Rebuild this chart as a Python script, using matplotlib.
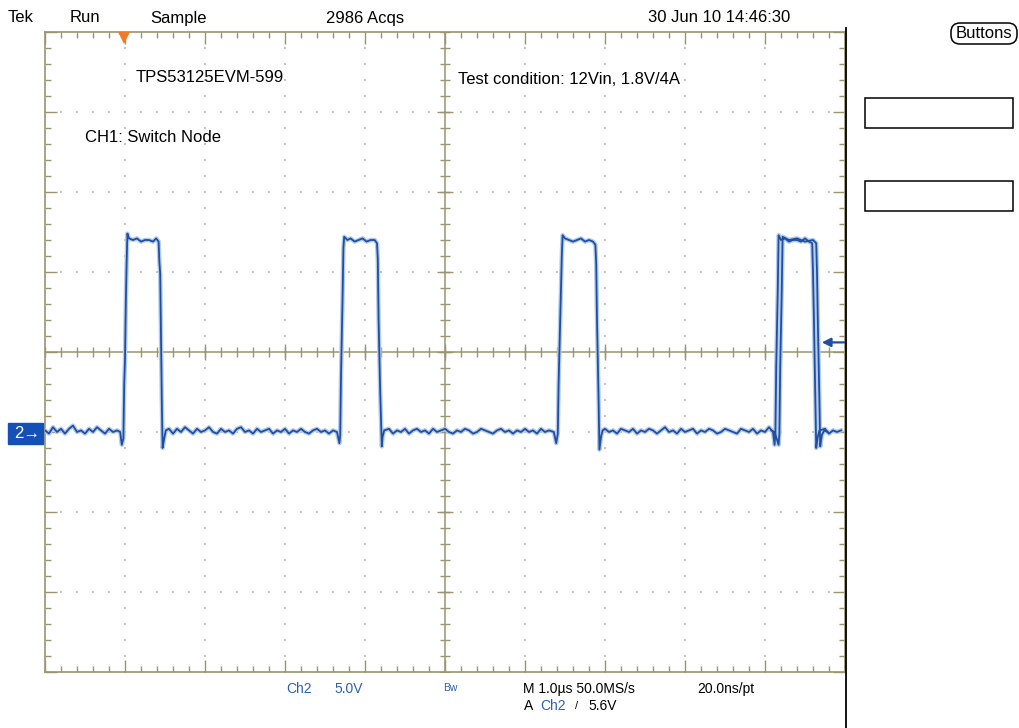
import numpy as np
import matplotlib
matplotlib.use('Agg')
import matplotlib.pyplot as plt
from matplotlib.patches import Rectangle, FancyBboxPatch
from matplotlib.lines import Line2D
from matplotlib.transforms import Affine2D

# --- scope settings ---
volts_per_div = 5.0      # Ch2 5.0V
us_per_div = 1.0         # M 1.0us
ch2_ground_div = -1.0    # "2->" marker one division below centre
trig_level_v = 5.6       # A Ch2 5.6V
trig_time_us = -4.01     # orange marker at the top

# --- Ch2 switch node trace, (time us from centre, volts) ---
low_a = [(-5.00, 0.1), (-4.95, -0.1), (-4.90, 0.3), (-4.85, 0.0), (-4.80, 0.2),
         (-4.75, -0.1), (-4.70, 0.2), (-4.65, 0.4), (-4.60, 0.0), (-4.55, 0.1),
         (-4.50, -0.1), (-4.45, 0.2), (-4.40, 0.0), (-4.35, 0.3), (-4.30, 0.1),
         (-4.25, -0.1), (-4.20, 0.2), (-4.15, 0.0), (-4.10, 0.1), (-4.06, 0.0)]
pulse_1 = [(-4.04, -0.8), (-4.02, -0.4), (-4.01, 3.0), (-4.00, 4.5), (-3.99, 8.0),
           (-3.98, 10.5), (-3.97, 12.4), (-3.95, 12.1), (-3.90, 12.0), (-3.85, 12.1),
           (-3.80, 11.9), (-3.75, 12.0), (-3.70, 12.0), (-3.65, 11.9), (-3.61, 12.1),
           (-3.58, 11.9), (-3.57, 10.6), (-3.56, 9.9), (-3.55, 6.0), (-3.54, 2.0),
           (-3.53, -1.0), (-3.51, -0.4), (-3.49, 0.1)]
low_b = [(-3.45, 0.2), (-3.40, -0.1), (-3.35, 0.2), (-3.30, 0.0), (-3.25, 0.3),
         (-3.20, 0.1), (-3.15, -0.1), (-3.10, 0.2), (-3.05, 0.0), (-3.00, 0.1),
         (-2.95, 0.3), (-2.90, 0.0), (-2.85, -0.1), (-2.80, 0.2), (-2.75, 0.0),
         (-2.70, 0.1), (-2.65, -0.1), (-2.60, 0.2), (-2.55, 0.3), (-2.50, 0.0),
         (-2.45, 0.1), (-2.40, -0.1), (-2.35, 0.2), (-2.30, 0.0), (-2.25, 0.1),
         (-2.20, 0.2), (-2.15, -0.1), (-2.10, 0.1), (-2.05, 0.0), (-2.00, 0.2),
         (-1.95, -0.1), (-1.90, 0.1), (-1.85, 0.0), (-1.80, 0.2), (-1.75, 0.0),
         (-1.70, -0.1), (-1.65, 0.1), (-1.60, 0.2), (-1.55, 0.0), (-1.50, 0.1),
         (-1.45, -0.1), (-1.40, 0.1), (-1.35, 0.0)]
pulse_2 = [(-1.32, -0.7), (-1.31, -0.2), (-1.30, 3.5), (-1.28, 8.5), (-1.27, 11.5),
           (-1.26, 12.2), (-1.22, 12.0), (-1.18, 12.1), (-1.13, 11.9), (-1.08, 12.0),
           (-1.03, 12.1), (-0.98, 11.9), (-0.93, 12.0), (-0.88, 12.0), (-0.85, 11.8),
           (-0.84, 10.8), (-0.83, 7.0), (-0.81, 2.5), (-0.79, -0.9), (-0.78, -0.3),
           (-0.76, 0.1)]
low_c = [(-0.70, 0.2), (-0.65, -0.1), (-0.60, 0.1), (-0.55, 0.0), (-0.50, 0.2),
         (-0.45, -0.1), (-0.40, 0.1), (-0.35, 0.2), (-0.30, 0.0), (-0.25, 0.1),
         (-0.20, -0.1), (-0.15, 0.2), (-0.10, 0.0), (-0.05, 0.1), (0.00, 0.2),
         (0.05, 0.0), (0.10, -0.1), (0.15, 0.1), (0.20, 0.0), (0.25, 0.2),
         (0.30, 0.1), (0.35, -0.1), (0.40, 0.0), (0.45, 0.2), (0.50, 0.1),
         (0.55, 0.0), (0.60, -0.1), (0.65, 0.1), (0.70, 0.2), (0.75, 0.0),
         (0.80, 0.1), (0.85, -0.1), (0.90, 0.1), (0.95, 0.0), (1.00, 0.2),
         (1.05, 0.0), (1.10, 0.1), (1.15, -0.1), (1.20, 0.2), (1.25, 0.0),
         (1.30, 0.1), (1.36, 0.0)]
pulse_3 = [(1.39, -0.7), (1.41, -0.1), (1.42, 3.0), (1.44, 7.0), (1.46, 11.0),
           (1.47, 12.3), (1.50, 12.1), (1.55, 12.0), (1.60, 11.9), (1.65, 12.0),
           (1.70, 12.1), (1.75, 11.9), (1.80, 12.0), (1.85, 11.9), (1.88, 11.7),
           (1.89, 10.5), (1.90, 7.0), (1.92, 2.0), (1.93, -1.1), (1.95, -0.3),
           (1.97, 0.1)]
low_d = [(2.00, 0.2), (2.05, 0.0), (2.10, 0.1), (2.15, -0.1), (2.20, 0.2),
         (2.25, 0.1), (2.30, 0.0), (2.35, 0.2), (2.40, -0.1), (2.45, 0.1),
         (2.50, 0.0), (2.55, 0.2), (2.60, 0.1), (2.65, -0.1), (2.70, 0.1),
         (2.75, 0.3), (2.80, 0.0), (2.85, 0.1), (2.90, -0.1), (2.95, 0.2),
         (3.00, 0.0), (3.05, 0.1), (3.10, 0.2), (3.15, -0.1), (3.20, 0.1),
         (3.25, 0.0), (3.30, 0.2), (3.35, 0.1), (3.40, -0.1), (3.45, 0.0),
         (3.50, 0.2), (3.55, 0.1), (3.60, 0.0), (3.65, -0.1), (3.70, 0.2),
         (3.75, 0.1), (3.80, 0.0), (3.85, 0.2), (3.90, -0.1), (3.95, 0.1),
         (4.00, 0.0), (4.05, 0.3), (4.10, 0.0)]
pulse_4 = [(4.12, -0.8), (4.13, -0.1), (4.14, 4.0), (4.16, 9.0), (4.17, 12.3),
           (4.20, 12.0), (4.25, 12.1), (4.30, 11.9), (4.35, 12.0), (4.40, 12.0),
           (4.45, 11.9), (4.50, 12.1), (4.55, 11.9), (4.59, 11.8), (4.60, 10.0),
           (4.61, 7.5), (4.63, 2.0), (4.64, -1.0), (4.66, -0.3), (4.68, 0.1),
           (4.75, 0.2), (4.80, -0.1), (4.85, 0.1), (4.90, 0.0), (4.95, 0.1)]
# jittered second sweep around the last pulse
ghost_4 = [(4.08, 0.1), (4.12, 0.0), (4.17, -0.8), (4.18, -0.1), (4.19, 4.0),
           (4.21, 9.0), (4.22, 12.2), (4.30, 12.0), (4.40, 12.1), (4.50, 11.9),
           (4.60, 12.0), (4.64, 11.8), (4.65, 10.0), (4.66, 7.0), (4.68, 2.0),
           (4.69, -0.9), (4.71, -0.2), (4.74, 0.1), (4.78, 0.0)]

header = ["Tek", "Run", "Sample", "2986 Acqs", "30 Jun 10 14:46:30"]
header_x = [8, 70, 150, 326, 648]

W, H = 1019, 728
blue = '#1f4f9e'
halo = '#b4cbec'
olive = '#9a9470'
dots = '#c4c4c4'
txtblue = '#2a60b0'

plt.rcParams['font.family'] = ['Liberation Sans', 'DejaVu Sans']

fig = plt.figure(figsize=(W / 100, H / 100), dpi=100)
fig.patch.set_facecolor('white')
# pixel coordinates with the origin at the top-left
pix = Affine2D().scale(1 / W, -1 / H).translate(0, 1) + fig.transFigure

ax = fig.add_axes([45 / W, (H - 672) / H, 800 / W, 640 / H])
ax.set_xlim(-5, 5)
ax.set_ylim(-4, 4)
ax.set_facecolor('white')

# graticule
for s in ax.spines.values():
    s.set_color(olive)
    s.set_linewidth(1.2)
ax.set_xticks(np.arange(-5, 6, 1))
ax.set_yticks(np.arange(-4, 5, 1))
ax.set_xticks(np.arange(-5, 5.01, 0.2), minor=True)
ax.set_yticks(np.arange(-4, 4.01, 0.2), minor=True)
ax.tick_params(which='both', direction='in', top=True, right=True,
               labelbottom=False, labelleft=False, color=olive, width=1)
ax.tick_params(which='major', length=8.5)
ax.tick_params(which='minor', length=4.3)

fine_x = np.arange(-5, 5.01, 0.2)
fine_y = np.arange(-4, 4.01, 0.2)
for gx in [-4, -3, -2, -1, 1, 2, 3, 4]:
    ax.plot(np.full_like(fine_y, gx), fine_y, 's', ms=1.6, color=dots, mew=0, zorder=1)
for gy in [-3, -2, -1, 1, 2, 3]:
    ax.plot(fine_x, np.full_like(fine_x, gy), 's', ms=1.6, color=dots, mew=0, zorder=1)

ax.axhline(0, color=olive, lw=1.1, zorder=1)
ax.axvline(0, color=olive, lw=1.1, zorder=1)
ax.plot(fine_x, np.zeros_like(fine_x), '|', ms=7, color=olive, mew=1, zorder=1)
ax.plot(fine_y * 0, fine_y, '_', ms=7, color=olive, mew=1, zorder=1)
ax.plot(np.arange(-4, 5), np.zeros(9), '|', ms=11, color=olive, mew=1, zorder=1)
ax.plot(np.zeros(7), np.arange(-3, 4), '_', ms=11, color=olive, mew=1, zorder=1)

# trace
sweep = low_a + pulse_1 + low_b + pulse_2 + low_c + pulse_3 + low_d + pulse_4
for seg in (sweep, ghost_4):
    t = np.array([p[0] for p in seg]) / us_per_div
    y = np.array([p[1] for p in seg]) / volts_per_div + ch2_ground_div
    ax.plot(t, y, color=halo, lw=3.2, zorder=3)
for seg in (sweep, ghost_4):
    t = np.array([p[0] for p in seg]) / us_per_div
    y = np.array([p[1] for p in seg]) / volts_per_div + ch2_ground_div
    ax.plot(t, y, color=blue, lw=1.3, zorder=4)

# trigger markers
ax.plot(trig_time_us, 3.93, marker='v', ms=9, color='#f07a28', mew=0, clip_on=False, zorder=6)
trig_div = trig_level_v / volts_per_div + ch2_ground_div
ax.annotate('', xy=(4.71, trig_div), xytext=(4.99, trig_div),
            arrowprops=dict(arrowstyle='-|>', color=blue, lw=1.6, mutation_scale=13,
                            shrinkA=0, shrinkB=0))

# annotations inside the screen
fig.text(136 / W, 1 - 78 / H, "TPS53125EVM-599", fontsize=12, ha='left', va='center')
fig.text(85 / W, 1 - 137 / H, "CH1: Switch Node", fontsize=12, ha='left', va='center')
fig.text(458 / W, 1 - 80 / H, "Test condition: 12Vin, 1.8V/4A", fontsize=12,
         ha='left', va='center')

# header line
for s, x in zip(header, header_x):
    fig.text(x / W, 1 - 18 / H, s, fontsize=12, ha='left', va='center')

# ground marker for channel 2
fig.patches.append(Rectangle((8, 423), 35, 21, transform=pix, color='#1550b8', zorder=5))
fig.text(14 / W, 1 - 433.5 / H, "2\u2192", color='white', fontsize=12, ha='left',
         va='center', zorder=7)

# right side panel
fig.lines.append(Line2D([846, 846], [28, 728], transform=pix, color='black', lw=1.3))
fig.patches.append(FancyBboxPatch((951, 23), 66, 21, transform=pix,
                                  boxstyle='round,pad=0,rounding_size=9',
                                  fc='white', ec='black', lw=1.1))
fig.text(984 / W, 1 - 33.5 / H, "Buttons", fontsize=12, ha='center', va='center', zorder=7)
fig.patches.append(Rectangle((865, 98), 148, 30, transform=pix, fc='none', ec='black', lw=1.1))
fig.patches.append(Rectangle((865, 181), 148, 30, transform=pix, fc='none', ec='black', lw=1.1))

# readout under the screen
fs = 10
fig.text(286 / W, 1 - 689 / H, "Ch2", color=txtblue, fontsize=fs, va='center')
fig.text(334 / W, 1 - 689 / H, "5.0V", color=txtblue, fontsize=fs, va='center')
fig.text(443 / W, 1 - 688 / H, "Bw", color=txtblue, fontsize=7.5, va='center')
fig.text(523 / W, 1 - 689 / H, "M 1.0\u00b5s 50.0MS/s", fontsize=fs, va='center')
fig.text(697 / W, 1 - 689 / H, "20.0ns/pt", fontsize=fs, va='center')
fig.text(524 / W, 1 - 706 / H, "A", fontsize=fs, va='center')
fig.text(540 / W, 1 - 706 / H, "Ch2", color=txtblue, fontsize=fs, va='center')
fig.text(575 / W, 1 - 706 / H, "/", fontsize=fs - 2, va='center')
fig.text(588 / W, 1 - 706 / H, "5.6V", fontsize=fs, va='center')

fig.savefig('out.png', dpi=100, facecolor='white')
